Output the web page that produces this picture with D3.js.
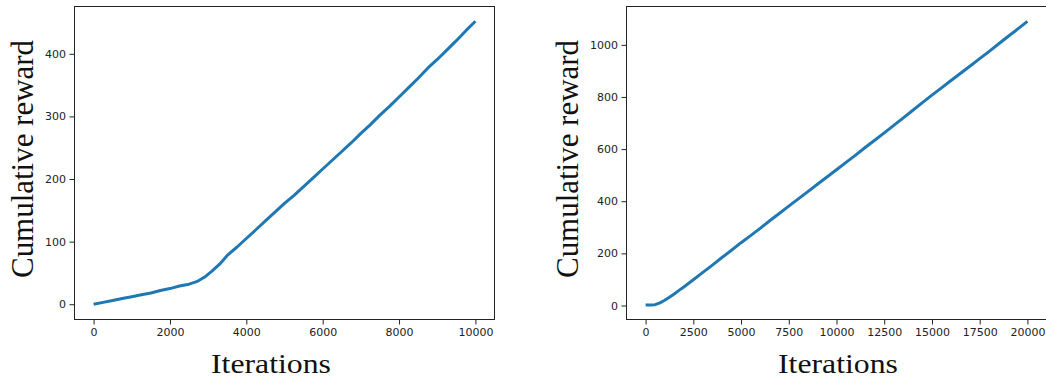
<!DOCTYPE html>
<html><head><meta charset="utf-8">
<script src="https://cdn.jsdelivr.net/npm/d3@7/dist/d3.min.js"></script>
<style>
html,body{margin:0;padding:0;background:#fff;}
svg{display:block;}
.tick text{font-family:"DejaVu Sans",sans-serif;font-size:11px;fill:#222;}
.tick line{stroke:#222;stroke-width:1;}
</style></head>
<body>
<svg id="chart" width="1046" height="380"></svg>
<script>
// ---- data ----
const leftIter  = [0,250,500,750,1000,1250,1500,1750,2000,2250,2500,2700,2900,3100,3300,3500,3750,4000,4250,4500,4750,5000,5250,5500,5750,6000,6250,6500,6750,7000,7250,7500,7750,8000,8250,8500,8750,9000,9250,9500,9750,10000];
const leftReward = [0,3,6,9,12,15,18,22,25,29,32,36,43,53,64,78,91,105,119,133,147,161,174,188,202,216,230,244,258,273,287,302,316,331,346,361,377,391,406,421,437,452];
const rightIter = [0,250,500,750,1000,1250,1500,1750,2000,2500,3000,3500,4000,4500,5000,5500,6000,6500,7000,7500,8000,8500,9000,9500,10000,10500,11000,11500,12000,12500,13000,13500,14000,14500,15000,15500,16000,16500,17000,17500,18000,18500,19000,19500,20000];
const rightReward = [2,2,3,10,20,32,44,58,71,99,127,155,184,212,241,268,296,325,353,381,409,437,465,493,521,549,577,606,634,662,691,720,749,778,807,835,863,891,919,947,975,1004,1033,1061,1090];
const leftXTicks = [0,2000,4000,6000,8000,10000];
const leftYTicks = [0,100,200,300,400];
const rightXTicks = [0,2500,5000,7500,10000,12500,15000,17500,20000];
const rightYTicks = [0,200,400,600,800,1000];
const xLabel = "Iterations";
const yLabel = "Cumulative reward";

const svg = d3.select("#chart");

function panel(cfg){
  const x = d3.scaleLinear().domain(cfg.xDomain).range([cfg.left, cfg.right]);
  const y = d3.scaleLinear().domain(cfg.yDomain).range([cfg.bottom, cfg.top]);
  const g = svg.append("g");
  g.append("g").attr("transform", `translate(0,${cfg.bottom})`)
    .call(d3.axisBottom(x).tickValues(cfg.xTicks).tickFormat(d3.format("d")).tickSize(5).tickPadding(4))
    .call(a => a.select(".domain").remove());
  g.append("g").attr("transform", `translate(${cfg.left},0)`)
    .call(d3.axisLeft(y).tickValues(cfg.yTicks).tickFormat(d3.format("d")).tickSize(5).tickPadding(3.5))
    .call(a => a.select(".domain").remove());
  const data = cfg.xs.map((v,i)=>[v, cfg.ys[i]]);
  g.append("path").datum(data)
    .attr("fill","none").attr("stroke","#1f77b4").attr("stroke-width",3)
    .attr("stroke-linejoin","round").attr("stroke-linecap","butt")
    .attr("d", d3.line().x(d=>x(d[0])).y(d=>y(d[1])));
  g.append("rect").attr("x",cfg.left).attr("y",cfg.top)
    .attr("width",cfg.right-cfg.left).attr("height",cfg.bottom-cfg.top)
    .attr("fill","none").attr("stroke","#222").attr("stroke-width",1);
  g.append("text").text(xLabel)
    .attr("x",cfg.xlabX).attr("y",372.5).attr("text-anchor","middle")
    .attr("font-family","'Liberation Serif','DejaVu Serif',serif").attr("font-size",28)
    .attr("textLength",120).attr("lengthAdjust","spacingAndGlyphs").attr("fill","#111");
  g.append("text").text(yLabel)
    .attr("transform",`translate(${cfg.ylabX},159) scale(1.12,1) rotate(-90)`)
    .attr("text-anchor","middle")
    .attr("font-family","'Liberation Serif','DejaVu Serif',serif").attr("font-size",29)
    .attr("textLength",238).attr("lengthAdjust","spacingAndGlyphs").attr("fill","#111");
}

panel({xDomain:[-500,10500], yDomain:[-24.4,475.6], left:74.5, right:494.5, top:6.5, bottom:319.5,
  xTicks:leftXTicks, yTicks:leftYTicks, xs:leftIter, ys:leftReward, xlabX:271, ylabX:33});
panel({xDomain:[-1000,21000], yDomain:[-53.7,1147], left:626.5, right:1046.5, top:6.5, bottom:319.5,
  xTicks:rightXTicks, yTicks:rightYTicks, xs:rightIter, ys:rightReward, xlabX:838, ylabX:577.5});
</script>
</body></html>
